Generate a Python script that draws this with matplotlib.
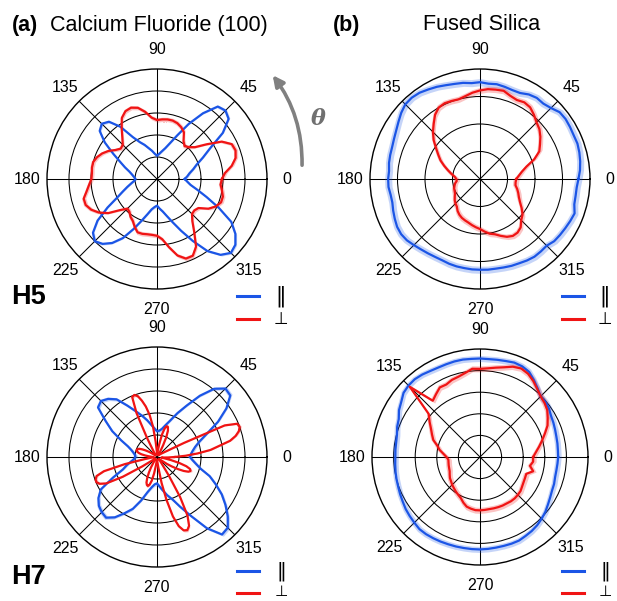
import numpy as np
import matplotlib
matplotlib.use("Agg")
import matplotlib.pyplot as plt
from matplotlib.lines import Line2D
from matplotlib.patches import FancyArrowPatch

plt.rcParams['font.family'] = ['Liberation Sans', 'DejaVu Sans']

# ---------------- data (radius vs angle in degrees) ----------------
ang5 = np.arange(0, 360, 5.0)
ang25 = np.arange(0, 360, 2.5)

tick_angles = [0, 45, 90, 135, 180, 225, 270, 315]
tick_labels = ['0', '45', '90', '135', '180', '225', '270', '315']

# (a) CaF2, H5
caf2_h5_par = [1.26,1.38,1.50,1.70,1.92,2.30,2.78,3.65,4.25,4.40,4.30,3.65,2.90,2.20,1.74,1.45,1.28,1.15,
               1.06,1.15,1.30,1.45,1.65,1.85,2.20,2.90,3.40,3.55,3.40,2.90,2.30,1.85,1.55,1.30,1.15,1.05,
               0.98,1.05,1.20,1.40,1.65,2.00,2.60,3.30,3.80,4.00,3.85,3.55,3.10,2.50,2.00,1.65,1.40,1.28,
               1.21,1.35,1.50,1.75,2.10,2.60,3.25,4.00,4.50,4.75,4.65,4.35,3.90,3.10,2.40,1.90,1.55,1.38]
caf2_h5_perp = [2.95,3.10,3.45,3.70,3.80,3.75,3.40,2.75,2.25,2.05,1.95,2.10,2.45,2.60,2.70,2.75,2.75,2.72,
                2.68,2.80,3.10,3.35,3.45,3.40,3.20,2.80,2.45,2.20,2.15,2.30,2.55,2.75,2.90,3.00,3.00,2.97,
                2.98,3.10,3.25,3.45,3.45,3.30,3.05,2.70,2.20,1.90,1.95,2.10,2.20,2.40,2.58,2.58,2.55,2.55,
                2.58,2.75,3.15,3.60,3.85,3.85,3.55,2.95,2.50,2.25,2.22,2.30,2.70,2.95,3.10,3.10,3.00,2.90]

# (b) Fused silica, H5
fs_h5_par = [3.58,3.65,3.70,3.74,3.77,3.76,3.78,3.80,3.78,3.65,3.58,3.60,3.55,3.45,3.44,3.47,3.50,3.48,
             3.52,3.50,3.55,3.58,3.63,3.70,3.76,3.83,3.86,3.84,3.74,3.62,3.52,3.45,3.40,3.38,3.36,3.32,
             3.34,3.34,3.30,3.30,3.36,3.42,3.48,3.50,3.47,3.40,3.34,3.30,3.27,3.26,3.28,3.29,3.29,3.30,
             3.30,3.31,3.31,3.33,3.36,3.38,3.42,3.45,3.44,3.43,3.52,3.55,3.58,3.62,3.66,3.55,3.53,3.53]
fs_h5_perp = [1.32,1.42,1.55,1.75,2.10,2.38,2.52,2.68,2.82,2.91,3.05,3.18,3.22,3.17,3.22,3.32,3.30,3.28,
              3.22,3.15,3.06,3.00,3.02,3.04,3.00,2.85,2.62,2.42,2.20,1.95,1.75,1.58,1.38,1.20,1.05,0.92,
              0.86,0.85,0.92,0.96,1.00,1.02,1.05,1.12,1.20,1.26,1.31,1.42,1.50,1.56,1.60,1.64,1.70,1.76,
              1.82,1.92,2.02,2.08,2.20,2.32,2.39,2.38,2.30,2.12,2.02,1.85,1.68,1.56,1.48,1.40,1.31,1.30]

# (a) CaF2, H7
caf2_h7_par = [1.50,1.55,1.65,1.80,2.05,2.50,3.20,3.85,4.35,4.40,4.05,3.40,2.70,2.20,1.77,1.50,1.30,1.20,
               1.17,1.30,1.48,1.73,2.00,2.30,2.70,3.20,3.45,3.60,3.50,2.85,2.35,1.80,1.40,1.20,1.08,1.00,
               0.98,1.05,1.20,1.42,1.65,2.20,2.95,3.25,3.45,3.55,3.60,3.35,2.95,2.60,2.10,1.65,1.40,1.25,
               1.20,1.35,1.55,1.80,2.05,2.50,3.10,3.95,4.60,4.55,4.20,3.80,3.40,2.95,2.55,2.05,1.80,1.62]
caf2_h7_perp = [0.80,1.30,1.85,2.45,2.85,3.40,3.70,3.90,4.00,3.95,3.40,1.40,
                0.70,0.45,0.35,0.28,0.22,0.18,0.15,0.12,0.10,0.10,0.12,0.18,
                0.30,0.60,1.00,1.30,1.45,1.47,1.35,1.05,0.60,0.30,0.15,0.12,
                0.15,0.30,0.70,1.40,1.95,2.35,2.65,2.90,3.00,2.95,2.20,1.00,
                0.45,0.25,0.15,0.10,0.10,0.10,0.10,0.12,0.15,0.22,0.32,0.45,
                0.60,0.75,0.88,0.95,0.97,0.97,0.93,0.85,0.72,0.55,0.38,0.25,
                0.18,0.15,0.20,0.35,0.60,1.50,2.50,2.88,2.97,2.98,2.88,2.60,
                1.80,0.80,0.35,0.20,0.12,0.10,0.10,0.10,0.12,0.15,0.22,0.35,
                0.55,0.80,1.05,1.25,1.35,1.38,1.30,1.10,0.75,0.40,0.20,0.12,
                0.12,0.15,0.25,0.50,1.20,2.00,2.80,3.30,3.55,3.60,3.45,3.00,
                2.10,1.00,0.45,0.25,0.15,0.12,0.12,0.15,0.22,0.35,0.55,0.80,
                1.10,1.38,1.58,1.65,1.60,1.40,1.05,0.65,0.35,0.20,0.30,0.50]

# (b) Fused silica, H7
fs_h7_par = [3.62,3.62,3.64,3.66,3.70,3.75,3.80,3.90,3.96,3.97,4.15,4.35,4.55,4.63,4.65,4.60,4.57,4.55,
             4.56,4.56,4.58,4.58,4.57,4.57,4.60,4.66,4.70,4.68,4.62,4.45,4.33,4.15,4.08,3.98,3.94,3.93,
             3.92,3.94,3.97,4.00,4.03,4.08,4.13,4.20,4.25,4.30,4.36,4.36,4.34,4.32,4.30,4.29,4.28,4.28,
             4.28,4.27,4.26,4.26,4.27,4.27,4.22,4.18,4.12,4.04,3.95,3.84,3.75,3.68,3.65,3.60,3.59,3.60]
fs_h7_perp = [2.46,2.60,2.78,2.98,3.20,3.45,3.62,3.80,3.90,3.97,4.12,4.30,4.45,4.52,4.45,4.30,4.20,4.12,
              4.08,4.10,3.95,3.85,3.80,3.70,3.72,3.55,3.40,4.60,3.10,2.85,2.62,2.45,2.30,2.05,1.90,1.70,
              1.55,1.47,1.48,1.50,1.52,1.55,1.62,1.70,1.75,1.82,1.88,1.95,2.02,2.10,2.25,2.38,2.43,2.47,
              2.47,2.46,2.45,2.46,2.47,2.48,2.48,2.50,2.50,2.48,2.45,2.38,2.33,2.30,2.28,2.55,2.35,2.47]

# error band half-widths
err = {'caf2_h5_par': 0.07, 'caf2_h5_perp': 0.10, 'fs_h5_par': 0.13, 'fs_h5_perp': 0.11,
       'caf2_h7_par': 0.10, 'caf2_h7_perp': 0.08, 'fs_h7_par': 0.14, 'fs_h7_perp': 0.14}

BLUE = '#1b55e6'
RED = '#f01414'

W, H = 617, 601
fig = plt.figure(figsize=(W / 100, H / 100), dpi=100)


def polar_panel(cx, cy, R, rmax):
    ax = fig.add_axes([(cx - R) / W, (H - cy - R) / H, 2 * R / W, 2 * R / H], projection='polar')
    ax.set_ylim(0, rmax)
    ax.set_yticks(np.arange(1, rmax))
    ax.set_yticklabels([])
    ax.set_xticks(np.deg2rad(tick_angles))
    ax.set_xticklabels([])
    ax.grid(True, color='black', lw=0.75)
    ax.spines['polar'].set_linewidth(1.0)
    ax.spines['polar'].set_color('black')
    ax.tick_params(length=0)
    rl = rmax * (1 + 20.0 / R)
    for a, lab in zip(tick_angles, tick_labels):
        ax.text(np.deg2rad(a), rl, lab, ha='center', va='center', fontsize=11.5, clip_on=False)
    return ax


def curve(ax, angles, vals, e, color):
    th = np.deg2rad(np.append(angles, angles[0]))
    r = np.append(np.asarray(vals), vals[0])
    ax.fill_between(th, r - e, r + e, color=color, alpha=0.25, lw=0, zorder=2)
    ax.plot(th, r, color=color, lw=1.6, zorder=3)


ax1 = polar_panel(157, 179, 110, 5)
curve(ax1, ang5, caf2_h5_par, err['caf2_h5_par'], BLUE)
curve(ax1, ang5, caf2_h5_perp, err['caf2_h5_perp'], RED)

ax2 = polar_panel(480, 179, 110, 4)
curve(ax2, ang5, fs_h5_par, err['fs_h5_par'], BLUE)
curve(ax2, ang5, fs_h5_perp, err['fs_h5_perp'], RED)

ax3 = polar_panel(157, 457, 110, 5)
curve(ax3, ang5, caf2_h7_par, err['caf2_h7_par'], BLUE)
curve(ax3, ang25, caf2_h7_perp, err['caf2_h7_perp'], RED)

ax4 = polar_panel(480, 457, 108, 5)
curve(ax4, ang5, fs_h7_par, err['fs_h7_par'], BLUE)
curve(ax4, ang5, fs_h7_perp, err['fs_h7_perp'], RED)


def ftext(x, y, s, **kw):
    fig.text(x / W, 1 - y / H, s, **kw)


ftext(12, 25, '(a)', fontsize=15.5, fontweight='bold', ha='left', va='center')
ftext(50, 25, 'Calcium Fluoride (100)', fontsize=15.5, ha='left', va='center')
ftext(333, 25, '(b)', fontsize=15.5, fontweight='bold', ha='left', va='center')
ftext(423, 25, 'Fused Silica', fontsize=15.5, ha='left', va='center')

ftext(11, 297, 'H5', fontsize=19.5, fontweight='bold', ha='left', va='center')
ftext(11, 577, 'H7', fontsize=19.5, fontweight='bold', ha='left', va='center')

# legends: (line x0, line x1, symbol x), (blue y, red y, par-symbol size, perp-symbol y, perp size)
legend_rows = [((237, 259, 281), (296, 319, 15, 319, 12)), ((562, 584, 605), (296, 319, 15, 319, 12)),
               ((237, 259, 281), (571, 593, 14, 591, 11)), ((562, 584, 605), (571, 593, 14, 591, 11))]
for (x0, x1, xs), (yb, yr, sp, ys, sz) in legend_rows:
    fig.add_artist(Line2D([x0 / W, x1 / W], [1 - yb / H, 1 - yb / H], color=BLUE, lw=2.2,
                          transform=fig.transFigure))
    fig.add_artist(Line2D([x0 / W, x1 / W], [1 - yr / H, 1 - yr / H], color=RED, lw=2.2,
                          transform=fig.transFigure))
    ftext(xs, yb, '\u2016', fontsize=sp, ha='center', va='center', family=['DejaVu Sans'])
    ftext(xs, ys, '\u22a5', fontsize=sz, ha='center', va='center', family=['DejaVu Sans'])

# rotation arrow
arrow = FancyArrowPatch((302 / W, 1 - 168 / H), (271 / W, 1 - 73 / H), transform=fig.transFigure,
                        connectionstyle='arc3,rad=0.18', arrowstyle='-|>', mutation_scale=16,
                        lw=2.6, color='#808080')
fig.add_artist(arrow)
ftext(318, 119, '\u03b8', fontsize=16, fontweight='bold', style='italic', color='#707070',
      family=['DejaVu Serif'], ha='center', va='center')

fig.savefig('out.png', dpi=100)
